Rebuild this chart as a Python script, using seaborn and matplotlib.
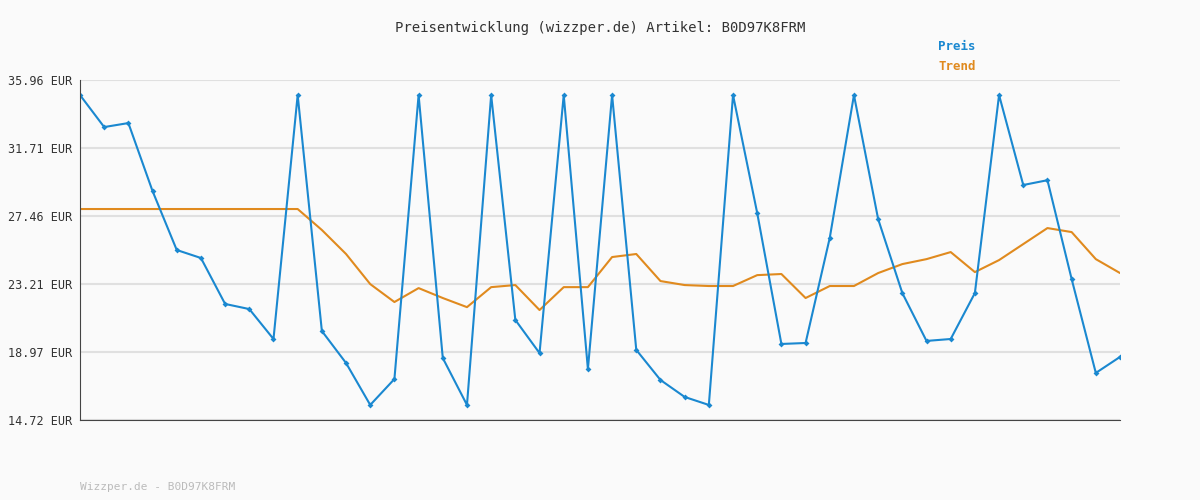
import numpy as np
import pandas as pd
import matplotlib
matplotlib.use("Agg")
import matplotlib.pyplot as plt
import seaborn as sns

preis = [35.02, 33.02, 33.27, 29.02, 25.34, 24.84, 21.97, 21.65, 19.78, 35.02,
         20.28, 18.28, 15.66, 17.28, 35.02, 18.59, 15.66, 35.02, 20.97, 18.9,
         35.02, 17.9, 35.02, 19.1, 17.22, 16.16, 15.66, 35.02, 27.65, 19.47,
         19.53, 26.1, 35.02, 27.27, 22.65, 19.66, 19.78, 22.65, 35.02, 29.4,
         29.7, 23.53, 17.66, 18.66]
trend = [27.9] * 10 + [26.59, 25.09, 23.21, 22.09, 22.96, 22.34, 21.77, 23.02, 23.15, 21.59,
         23.02, 23.02, 24.9, 25.09, 23.4, 23.15, 23.09, 23.09, 23.77, 23.84,
         22.34, 23.09, 23.09, 23.9, 24.46, 24.77, 25.21, 23.96, 24.71, 25.71,
         26.71, 26.46, 24.77, 23.9]
yticks = [14.72, 18.97, 23.21, 27.46, 31.71, 35.96]

df = pd.DataFrame({"i": np.arange(len(preis)), "preis": preis, "trend": trend})

sns.set_style("white")
plt.rcParams["font.family"] = ["DejaVu Sans Mono"]
fig = plt.figure(figsize=(12, 5), dpi=100, facecolor="#fafafa")
ax = fig.add_axes([80/1200, 80/500, 1040/1200, 340/500])
ax.set_facecolor("#fafafa")

blue, orange = "#1a88d0", "#e08a1e"
sns.lineplot(data=df, x="i", y="trend", color=orange, lw=1.5, ax=ax)
sns.lineplot(data=df, x="i", y="preis", color=blue, lw=1.5, marker="D", markersize=3,
             markeredgewidth=0, ax=ax)

ax.set_xlim(0, len(preis) - 1)
ax.set_ylim(14.72, 35.96)
ax.set_yticks(yticks)
ax.set_yticklabels([f"{v:.2f} EUR" for v in yticks], fontsize=8.5, color="#333333")
ax.set_xticks([])
ax.set_xlabel("")
ax.set_ylabel("")
ax.grid(axis="y", color="#e0e0e0", lw=1.5)
ax.set_axisbelow(True)
for s in ["top", "right"]:
    ax.spines[s].set_visible(False)
for s in ["left", "bottom"]:
    ax.spines[s].set_color("#444444")
ax.tick_params(axis="y", length=4, color="#444444", pad=2)

fig.text(0.5, 1 - 28/500, "Preisentwicklung (wizzper.de) Artikel: B0D97K8FRM",
         ha="center", va="center", fontsize=10, color="#333333")
fig.text(957/1200, 1 - 47/500, "Preis", ha="center", va="center", fontsize=9,
         color=blue, weight="bold")
fig.text(957/1200, 1 - 67/500, "Trend", ha="center", va="center", fontsize=9,
         color=orange, weight="bold")
fig.text(80/1200, 1 - 487/500, "Wizzper.de - B0D97K8FRM", ha="left", va="center",
         fontsize=8, color="#bbbbbb")

fig.savefig("out.png", dpi=100, facecolor=fig.get_facecolor())
